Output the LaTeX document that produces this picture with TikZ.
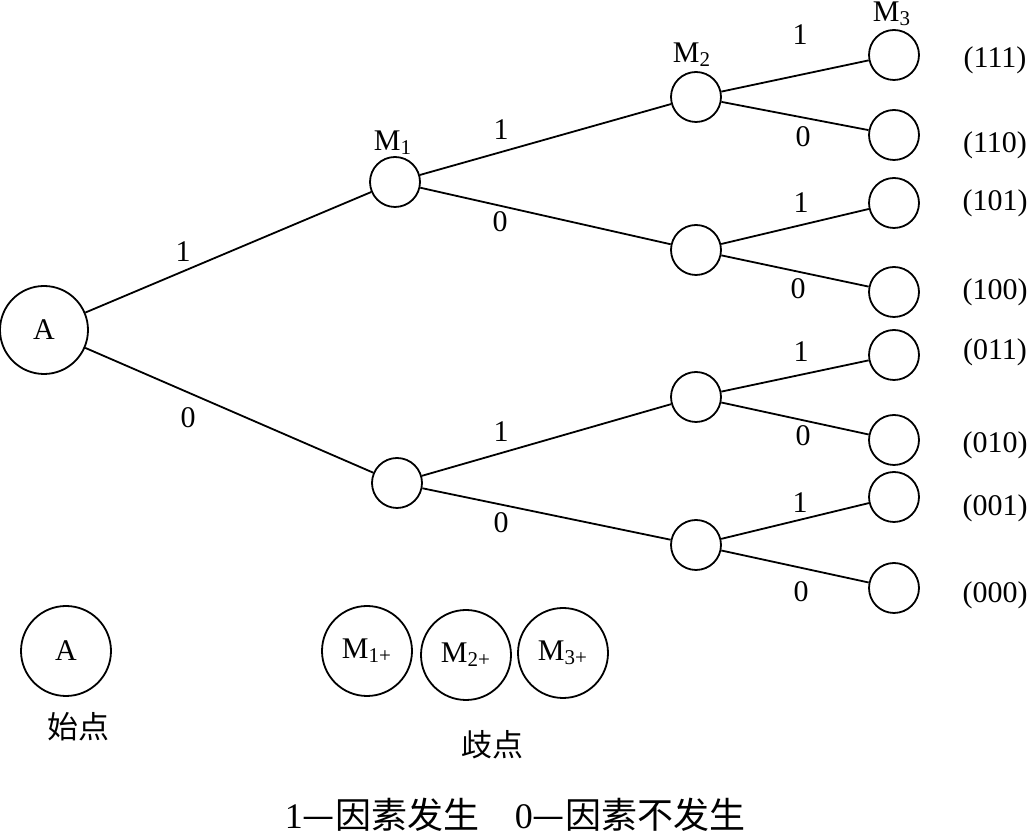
\documentclass[tikz,border=0pt]{standalone}
\usepackage{fontspec}
\setmainfont{Liberation Serif}
\newfontfamily\cjk{Noto Sans CJK SC}
\usetikzlibrary{positioning}

\begin{document}
\begin{tikzpicture}[
    x=0.5pt, y=-0.5pt,
    state/.style={draw, circle, line width=0.9pt, minimum size=25pt, inner sep=0pt},
    root/.style={state, minimum size=44pt, font=\fontsize{15}{18}\selectfont},
    legend/.style={state, minimum size=45pt, font=\fontsize{15}{18}\selectfont},
    branch/.style={line width=0.9pt},
    digit/.style={font=\fontsize{15}{18}\selectfont, inner sep=0pt},
    cn/.style={font=\cjk\fontsize{15.5}{18}\selectfont, inner sep=0pt}
]
    \useasboundingbox (0,0) rectangle (1030,838);

    % Start point
    \node[root] (A) at (44,330) {A};

    % Level 1
    \node[state] (m1) at (395,182) {};
    \node[state] (m0) at (397,483) {};

    % Level 2
    \node[state] (m11) at (696,97) {};
    \node[state] (m10) at (696,250) {};
    \node[state] (m01) at (696,397) {};
    \node[state] (m00) at (696,545) {};

    % Level 3
    \node[state] (m111) at (894,55) {};
    \node[state] (m110) at (894,135) {};
    \node[state] (m101) at (894,203) {};
    \node[state] (m100) at (894,292) {};
    \node[state] (m011) at (894,355) {};
    \node[state] (m010) at (894,440) {};
    \node[state] (m001) at (894,497) {};
    \node[state] (m000) at (894,588) {};

    % Branches
    \draw[branch] (A) -- (m1);
    \draw[branch] (A) -- (m0);
    \draw[branch] (m1) -- (m11);
    \draw[branch] (m1) -- (m10);
    \draw[branch] (m0) -- (m01);
    \draw[branch] (m0) -- (m00);
    \draw[branch] (m11) -- (m111);
    \draw[branch] (m11) -- (m110);
    \draw[branch] (m10) -- (m101);
    \draw[branch] (m10) -- (m100);
    \draw[branch] (m01) -- (m011);
    \draw[branch] (m01) -- (m010);
    \draw[branch] (m00) -- (m001);
    \draw[branch] (m00) -- (m000);

    % Branch labels
    \node[digit] (e1) at (183,252) {1};
    \node[digit] (e0) at (188,418) {0};
    \node[digit] (e11) at (501,130) {1};
    \node[digit] (e10) at (500,222) {0};
    \node[digit] (e01) at (501,432) {1};
    \node[digit] (e00) at (501,523) {0};
    \node[digit] (e111) at (800,35) {1};
    \node[digit] (e110) at (803,137) {0};
    \node[digit] (e101) at (801,203) {1};
    \node[digit] (e100) at (798,289) {0};
    \node[digit] (e011) at (801,352) {1};
    \node[digit] (e010) at (803,436) {0};
    \node[digit] (e001) at (800,503) {1};
    \node[digit] (e000) at (801,592) {0};

    % Factor names
    \node[digit] (M1) at (393,143) {M\textsubscript{1}};
    \node[digit] (M2) at (692,55) {M\textsubscript{2}};
    \node[digit] (M3) at (892,14) {M\textsubscript{3}};

    % Outcomes
    \node[digit] (c111) at (995,60) {(111)};
    \node[digit] (c110) at (995,145) {(110)};
    \node[digit] (c101) at (995,203) {(101)};
    \node[digit] (c100) at (995,292) {(100)};
    \node[digit] (c011) at (995,352) {(011)};
    \node[digit] (c010) at (995,445) {(010)};
    \node[digit] (c001) at (995,508) {(001)};
    \node[digit] (c000) at (995,595) {(000)};

    % Legend
    \node[legend] (kA) at (66,651) {A};
    \node[legend] (k1) at (367,651) {M\textsubscript{1+}};
    \node[legend] (k2) at (466,655) {M\textsubscript{2+}};
    \node[legend] (k3) at (563,653) {M\textsubscript{3+}};
    \node[cn] (start) at (78,727) {始点};
    \node[cn] (fork) at (492,745) {歧点};
    \node[cn, font=\cjk\fontsize{18}{21}\selectfont] (note) at (515,815)
        {{\rmfamily 1}—因素发生\quad{\rmfamily 0}—因素不发生};
\end{tikzpicture}
\end{document}
